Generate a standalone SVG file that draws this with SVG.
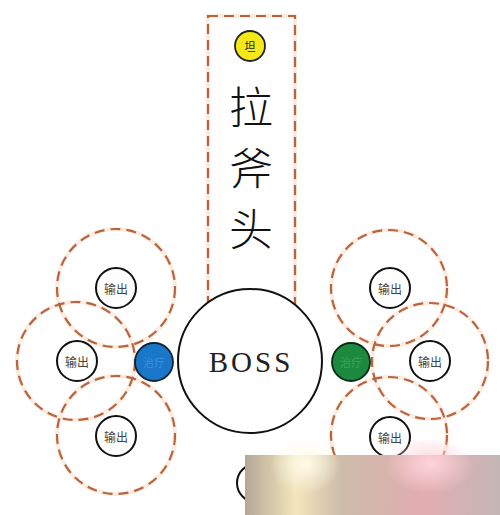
<svg xmlns="http://www.w3.org/2000/svg" width="500" height="515" viewBox="0 0 500 515">
<defs>
<style>
.zone{fill:none;stroke:#b8653f;stroke-width:2.2;stroke-dasharray:10 6}
.halo{fill:none;stroke:#fdece0;stroke-width:4}
.out{fill:#fff;stroke:#111;stroke-width:2}
.outt{font-family:"Noto Sans CJK SC",sans-serif;font-size:12px;fill:#444;text-anchor:middle;dominant-baseline:central}
.sm{font-family:"Noto Sans CJK SC",sans-serif;font-size:11px;text-anchor:middle;dominant-baseline:central}
.big{font-family:"Noto Sans CJK SC",sans-serif;font-weight:300;font-size:44px;text-anchor:middle;dominant-baseline:central;fill:#111}
</style>
<linearGradient id="wm" x1="0" y1="0" x2="1" y2="0">
<stop offset="0" stop-color="#b3a796"/>
<stop offset="0.2" stop-color="#f3e6bc"/>
<stop offset="0.38" stop-color="#cdbcaa"/>
<stop offset="0.7" stop-color="#e2acb0"/>
<stop offset="1" stop-color="#c4b6b6"/>
</linearGradient>
<radialGradient id="glow1" cx="0.5" cy="0.4" r="0.5">
<stop offset="0" stop-color="#fffbe8"/>
<stop offset="1" stop-color="#fffbe8" stop-opacity="0"/>
</radialGradient>
<radialGradient id="glow2" cx="0.5" cy="0.4" r="0.5">
<stop offset="0" stop-color="#ffd6dc"/>
<stop offset="1" stop-color="#ffd6dc" stop-opacity="0"/>
</radialGradient>
</defs>
<rect width="500" height="515" fill="#fff"/>

<g id="zones">
<rect x="208" y="16" width="87" height="290" class="halo"/>
<rect x="208" y="16" width="87" height="290" class="zone"/>
<circle cx="116" cy="288" r="59" class="halo"/>
<circle cx="76" cy="361" r="59" class="halo"/>
<circle cx="116" cy="435" r="59" class="halo"/>
<circle cx="389" cy="288" r="58" class="halo"/>
<circle cx="430" cy="361" r="58" class="halo"/>
<circle cx="389" cy="435" r="58" class="halo"/>
<circle cx="116" cy="288" r="59" class="zone"/>
<circle cx="76" cy="361" r="59" class="zone"/>
<circle cx="116" cy="435" r="59" class="zone"/>
<circle cx="389" cy="288" r="58" class="zone"/>
<circle cx="430" cy="361" r="58" class="zone"/>
<circle cx="389" cy="435" r="58" class="zone"/>
</g>

<g id="tank">
<circle cx="250" cy="46" r="15" fill="#f4e81a" stroke="#222" stroke-width="1.8"/>
<text x="250" y="46" class="sm" font-size="13px" fill="#222">坦</text>
</g>
<g id="title">
<text x="251" y="105" class="big">拉</text>
<text x="251" y="166" class="big">斧</text>
<text x="251" y="227" class="big">头</text>
</g>

<g id="boss">
<circle cx="250" cy="361" r="72" fill="#fff" stroke="#111" stroke-width="2"/>
<text x="251" y="362" font-family="Liberation Serif,serif" font-size="29px" letter-spacing="3" text-anchor="middle" dominant-baseline="central" fill="#222">BOSS</text>
</g>

<g id="healer-left">
<circle cx="154" cy="362" r="19" fill="#1976c8" stroke="#123" stroke-width="1.8"/>
<text x="154" y="362" class="sm" fill="#3f8fd6">治疗</text>
</g>
<g id="healer-right">
<circle cx="351" cy="362" r="19" fill="#1b8a3e" stroke="#0d2a16" stroke-width="1.8"/>
<text x="351" y="362" class="sm" fill="#3aa35c">治疗</text>
</g>

<g id="dps-l1"><circle cx="116" cy="288" r="20" class="out"/><text x="116" y="288" class="outt">输出</text></g>
<g id="dps-l2"><circle cx="77" cy="361" r="20" class="out"/><text x="77" y="361" class="outt">输出</text></g>
<g id="dps-l3"><circle cx="116" cy="436" r="20" class="out"/><text x="116" y="436" class="outt">输出</text></g>
<g id="dps-r1"><circle cx="390" cy="288" r="20" class="out"/><text x="390" y="288" class="outt">输出</text></g>
<g id="dps-r2"><circle cx="430" cy="361" r="20" class="out"/><text x="430" y="361" class="outt">输出</text></g>
<g id="dps-r3"><circle cx="390" cy="437" r="20" class="out"/><text x="390" y="437" class="outt">输出</text></g>

<g id="bottom-node">
<circle cx="256" cy="483" r="19" fill="#fff" stroke="#111" stroke-width="2"/>
</g>

<g id="watermark">
<rect x="245" y="455" width="255" height="60" fill="url(#wm)"/>
<ellipse cx="305" cy="470" rx="35" ry="30" fill="url(#glow1)"/>
<ellipse cx="430" cy="470" rx="45" ry="30" fill="url(#glow2)"/>
</g>
</svg>
